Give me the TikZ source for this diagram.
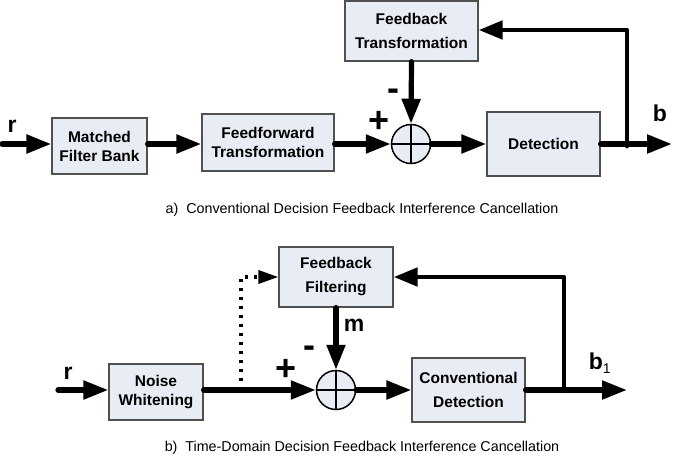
\documentclass[tikz,border=0pt]{standalone}
\usepackage{fontspec}
\setmainfont{Liberation Sans}
\usetikzlibrary{arrows.meta}
\definecolor{boxfill}{HTML}{E8ECF5}
\definecolor{boxline}{HTML}{505050}
\begin{document}
\begin{tikzpicture}[x=1pt,y=-1pt,
  blk/.style={draw=boxline, line width=1.3pt, fill=boxfill, align=center, inner sep=0pt,
    font=\fontsize{15.5}{19}\selectfont\bfseries},
  blkwide/.style={blk, font=\fontsize{15.5}{24}\selectfont\bfseries},
  sumnode/.style={circle, draw=black, line width=1.5pt, fill=boxfill, minimum size=39pt, inner sep=0pt},
  sig/.style={line width=5.2pt, line cap=round, -{Triangle[length=25pt,width=18pt]}},
  fbl/.style={line width=4.8pt, line cap=round, line join=round, -{Triangle[length=24pt,width=18pt]}},
  dotsig/.style={line width=3.5pt, dash pattern=on 3pt off 6pt, -{Triangle[length=20pt,width=13pt]}},
  lbl/.style={font=\fontsize{23}{24}\selectfont\bfseries, inner sep=0pt},
  sgn/.style={font=\fontsize{36}{36}\selectfont\bfseries, inner sep=0pt},
  captext/.style={font=\fontsize{14.3}{16}\selectfont, inner sep=0pt}
]
\useasboundingbox (0,0) rectangle (673,458);

% ---------- (a) ----------
\node[blk, minimum width=95pt, minimum height=56pt] (mf) at (99.5,146) {Matched\\Filter Bank};
\node[blk, minimum width=132pt, minimum height=57pt] (ff) at (268,142.5) {Feedforward\\Transformation};
\node[sumnode] (s1) at (411,144) {};
\draw[line width=1.5pt] (s1.north) -- (s1.south) (s1.west) -- (s1.east);
\node[blk, minimum width=113pt, minimum height=64pt] (det) at (543.5,144) {Detection};
\node[blkwide, minimum width=133pt, minimum height=60pt] (fbt) at (411.5,31) {Feedback\\Transformation};

\coordinate (in1) at (2,144);
\coordinate (out1) at (672,144);
\coordinate (j1) at (627,146);
\coordinate (c1) at (627,30);

\draw[sig] (in1) -- (mf.west |- in1);
\draw[sig] (mf.east |- in1) -- (ff.west |- in1);
\draw[sig] (ff.east |- in1) -- (s1.west);
\draw[sig] (s1.east) -- (det.west);
\draw[sig] (det.east |- in1) -- (out1);
\draw[fbl] (j1) -- (c1) -- (fbt.east |- c1);
\draw[sig] (fbt.south) -- (s1.north);

\node[lbl] (r1) at (12,126) {r};
\node[lbl] (b1) at (660,113) {b};
\node[sgn] (p1) at (379,122) {+};
\node[sgn] (m1) at (393,95) {-};
\node[captext] (capa) at (362,210) {a)\ \ Conventional Decision Feedback Interference Cancellation};

% ---------- (b) ----------
\node[blk, minimum width=94pt, minimum height=56pt] (nw) at (156,392) {Noise\\Whitening};
\node[blkwide, minimum width=114pt, minimum height=60pt] (ffl) at (336,277) {Feedback\\Filtering};
\node[sumnode] (s2) at (336,390) {};
\draw[line width=1.5pt] (s2.north) -- (s2.south) (s2.west) -- (s2.east);
\node[blkwide, minimum width=113pt, minimum height=64pt] (cd) at (468.5,390) {Conventional\\Detection};

\coordinate (in2) at (58,390);
\coordinate (out2) at (627,390);
\coordinate (j2) at (564,390);
\coordinate (c2) at (564,277);
\coordinate (d1) at (241,390);
\coordinate (d2) at (241,277);

\draw[sig] (in2) -- (nw.west |- in2);
\draw[sig] (nw.east |- in2) -- (s2.west);
\draw[sig] (s2.east) -- (cd.west);
\draw[sig] (cd.east) -- (out2);
\draw[fbl] (j2) -- (c2) -- (ffl.east |- c2);
\draw[sig] (ffl.south) -- (s2.north);
\draw[dotsig] (d1) -- (d2) -- (ffl.west |- d2);

\node[lbl] (r2) at (68,373) {r};
\node[lbl] (mm) at (354,325) {m};
\node[lbl] (b2) at (600,363) {b\textsubscript{\fontsize{14}{14}\selectfont\mdseries 1}};
\node[sgn] (p2) at (286,370) {+};
\node[sgn] (m2) at (309,352) {-};
\node[captext] (capb) at (362,448) {b)\ \ Time-Domain Decision Feedback Interference Cancellation};
\end{tikzpicture}
\end{document}
